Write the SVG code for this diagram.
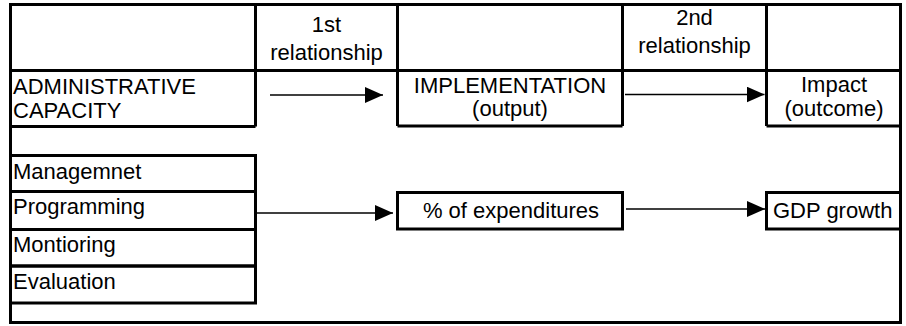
<svg xmlns="http://www.w3.org/2000/svg" width="906" height="326" viewBox="0 0 906 326">
<style>
.b{fill:none;stroke:#000;stroke-width:3}
.t{font-family:"Liberation Sans",Arial,Helvetica,sans-serif;font-size:22px;fill:#000}
.m{text-anchor:middle}
.c{fill:none;stroke:#000;stroke-width:1.5}
</style>
<defs>
<marker id="ah" markerUnits="userSpaceOnUse" markerWidth="18" markerHeight="16" viewBox="0 0 18 16" refX="18" refY="8" orient="auto">
<path d="M0,0 L18,8 L0,16 Z" fill="#000"/>
</marker>
</defs>
<rect width="906" height="326" fill="#fff"/>
<g id="frame">
<path class="b" d="M10.5,4.5 H900.5 V322.5 H10.5 Z"/>
<path class="b" d="M10.5,70.5 H900.5"/>
<path class="b" d="M255.5,4.5 V126.5 M397.5,4.5 V126 M622.5,4.5 V126 M766.5,4.5 V126"/>
</g>
<g id="header-rel1">
<text class="t m" x="326.5" y="31.5">1st</text>
<text class="t m" x="326.5" y="59.5">relationship</text>
</g>
<g id="header-rel2">
<text class="t m" x="694.5" y="25">2nd</text>
<text class="t m" x="694.5" y="53">relationship</text>
</g>
<g id="admin-capacity">
<path class="b" d="M10.5,126.5 H255.5"/>
<text class="t" x="13" y="94">ADMINISTRATIVE</text>
<text class="t" x="13" y="118">CAPACITY</text>
</g>
<g id="implementation">
<path class="b" d="M397.5,126 H622.5"/>
<text class="t m" x="510" y="93">IMPLEMENTATION</text>
<text class="t m" x="510" y="116">(output)</text>
</g>
<g id="impact">
<path class="b" d="M766.5,126 H900.5"/>
<text class="t m" x="834" y="92">Impact</text>
<text class="t m" x="834" y="116">(outcome)</text>
</g>
<g id="management">
<rect class="b" x="10.5" y="155.5" width="245" height="36"/>
<text class="t" x="13" y="179">Managemnet</text>
</g>
<g id="programming">
<rect class="b" x="10.5" y="191.5" width="245" height="38"/>
<text class="t" x="13" y="214">Programming</text>
</g>
<g id="monitoring">
<rect class="b" x="10.5" y="229.5" width="245" height="36.5"/>
<text class="t" x="13" y="251.5">Montioring</text>
</g>
<g id="evaluation">
<rect class="b" x="10.5" y="266" width="245" height="37"/>
<text class="t" x="13" y="289">Evaluation</text>
</g>
<g id="expenditures">
<rect class="b" x="397.5" y="192.5" width="225" height="36.5"/>
<text class="t m" x="511" y="218">% of expenditures</text>
</g>
<g id="gdp-growth">
<rect class="b" x="766.5" y="192.5" width="134" height="36.5"/>
<text class="t" x="773" y="218">GDP growth</text>
</g>
<g id="connectors">
<line class="c" x1="270" y1="95" x2="383" y2="95" marker-end="url(#ah)"/>
<line class="c" x1="625" y1="94.5" x2="764.5" y2="94.5" marker-end="url(#ah)"/>
<line class="c" x1="257" y1="213" x2="393" y2="213" marker-end="url(#ah)"/>
<line class="c" x1="626" y1="209" x2="765" y2="209" marker-end="url(#ah)"/>
</g>
</svg>
